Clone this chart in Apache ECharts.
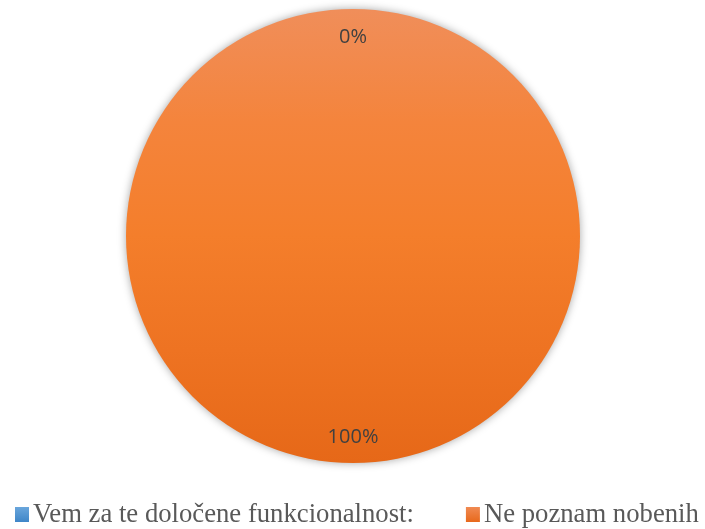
<!DOCTYPE html>
<html>
<head>
<meta charset="utf-8">
<script src="https://cdn.jsdelivr.net/npm/echarts@6/dist/echarts.min.js"></script>
<style>
  html, body { margin: 0; padding: 0; background: #ffffff; }
  #chart { width: 705px; height: 529px; }
</style>
</head>
<body>
<div id="chart"></div>
<script>
// Survey answers and their shares (percent)
const categories = ['Vem za te določene funkcionalnost:', 'Ne poznam nobenih'];
const shares = [0, 100];

const chart = echarts.init(document.getElementById('chart'));

const blueFill = new echarts.graphic.LinearGradient(0, 0, 0, 1, [
  { offset: 0, color: '#6aa6dc' },
  { offset: 1, color: '#3f86c8' }
]);
const orangeFill = new echarts.graphic.LinearGradient(0, 0, 0, 1, [
  { offset: 0, color: '#f08e5a' },
  { offset: 0.25, color: '#f4843c' },
  { offset: 0.5, color: '#f47e2b' },
  { offset: 0.75, color: '#ee7322' },
  { offset: 1, color: '#e66818' }
]);
const legendOrange = new echarts.graphic.LinearGradient(0, 0, 0, 1, [
  { offset: 0, color: '#f08a52' },
  { offset: 1, color: '#e8691c' }
]);
const fills = [blueFill, orangeFill];
const legendFills = [blueFill, legendOrange];

const slices = categories.map((name, i) => ({
  name: name,
  value: shares[i],
  itemStyle: { color: fills[i] }
}));

chart.setOption({
  animation: false,
  legend: {
    top: 501,
    left: 15,
    width: 800,
    padding: 0,
    itemWidth: 14,
    itemHeight: 15,
    itemGap: 52,
    icon: 'rect',
    textStyle: {
      fontFamily: 'Liberation Serif',
      fontSize: 26.7,
      color: '#595959',
      padding: [0, 0, 0, -1]
    },
    data: categories.map((name, i) => ({ name: name, itemStyle: { color: legendFills[i] } }))
  },
  series: [
    {
      type: 'pie',
      center: [353, 236],
      radius: [0, 227],
      startAngle: 90,
      clockwise: true,
      silent: true,
      stillShowZeroSum: true,
      itemStyle: {
        shadowBlur: 8,
        shadowColor: 'rgba(0,0,0,0.35)'
      },
      label: { show: false },
      labelLine: { show: false },
      data: slices
    },
    {
      // transparent twin that places the percentage labels near the rim
      type: 'pie',
      center: [353, 237.5],
      radius: [0, 394],
      startAngle: 90,
      clockwise: true,
      silent: true,
      legendHoverLink: false,
      itemStyle: { color: 'rgba(0,0,0,0)' },
      label: {
        show: true,
        position: 'inside',
        formatter: p => p.value + '%',
        fontFamily: 'Open Sans',
        fontSize: 20,
        color: '#404040'
      },
      labelLine: { show: false },
      data: categories.map((name, i) => ({ name: name + ' ', value: shares[i] }))
    }
  ]
});
</script>
</body>
</html>
